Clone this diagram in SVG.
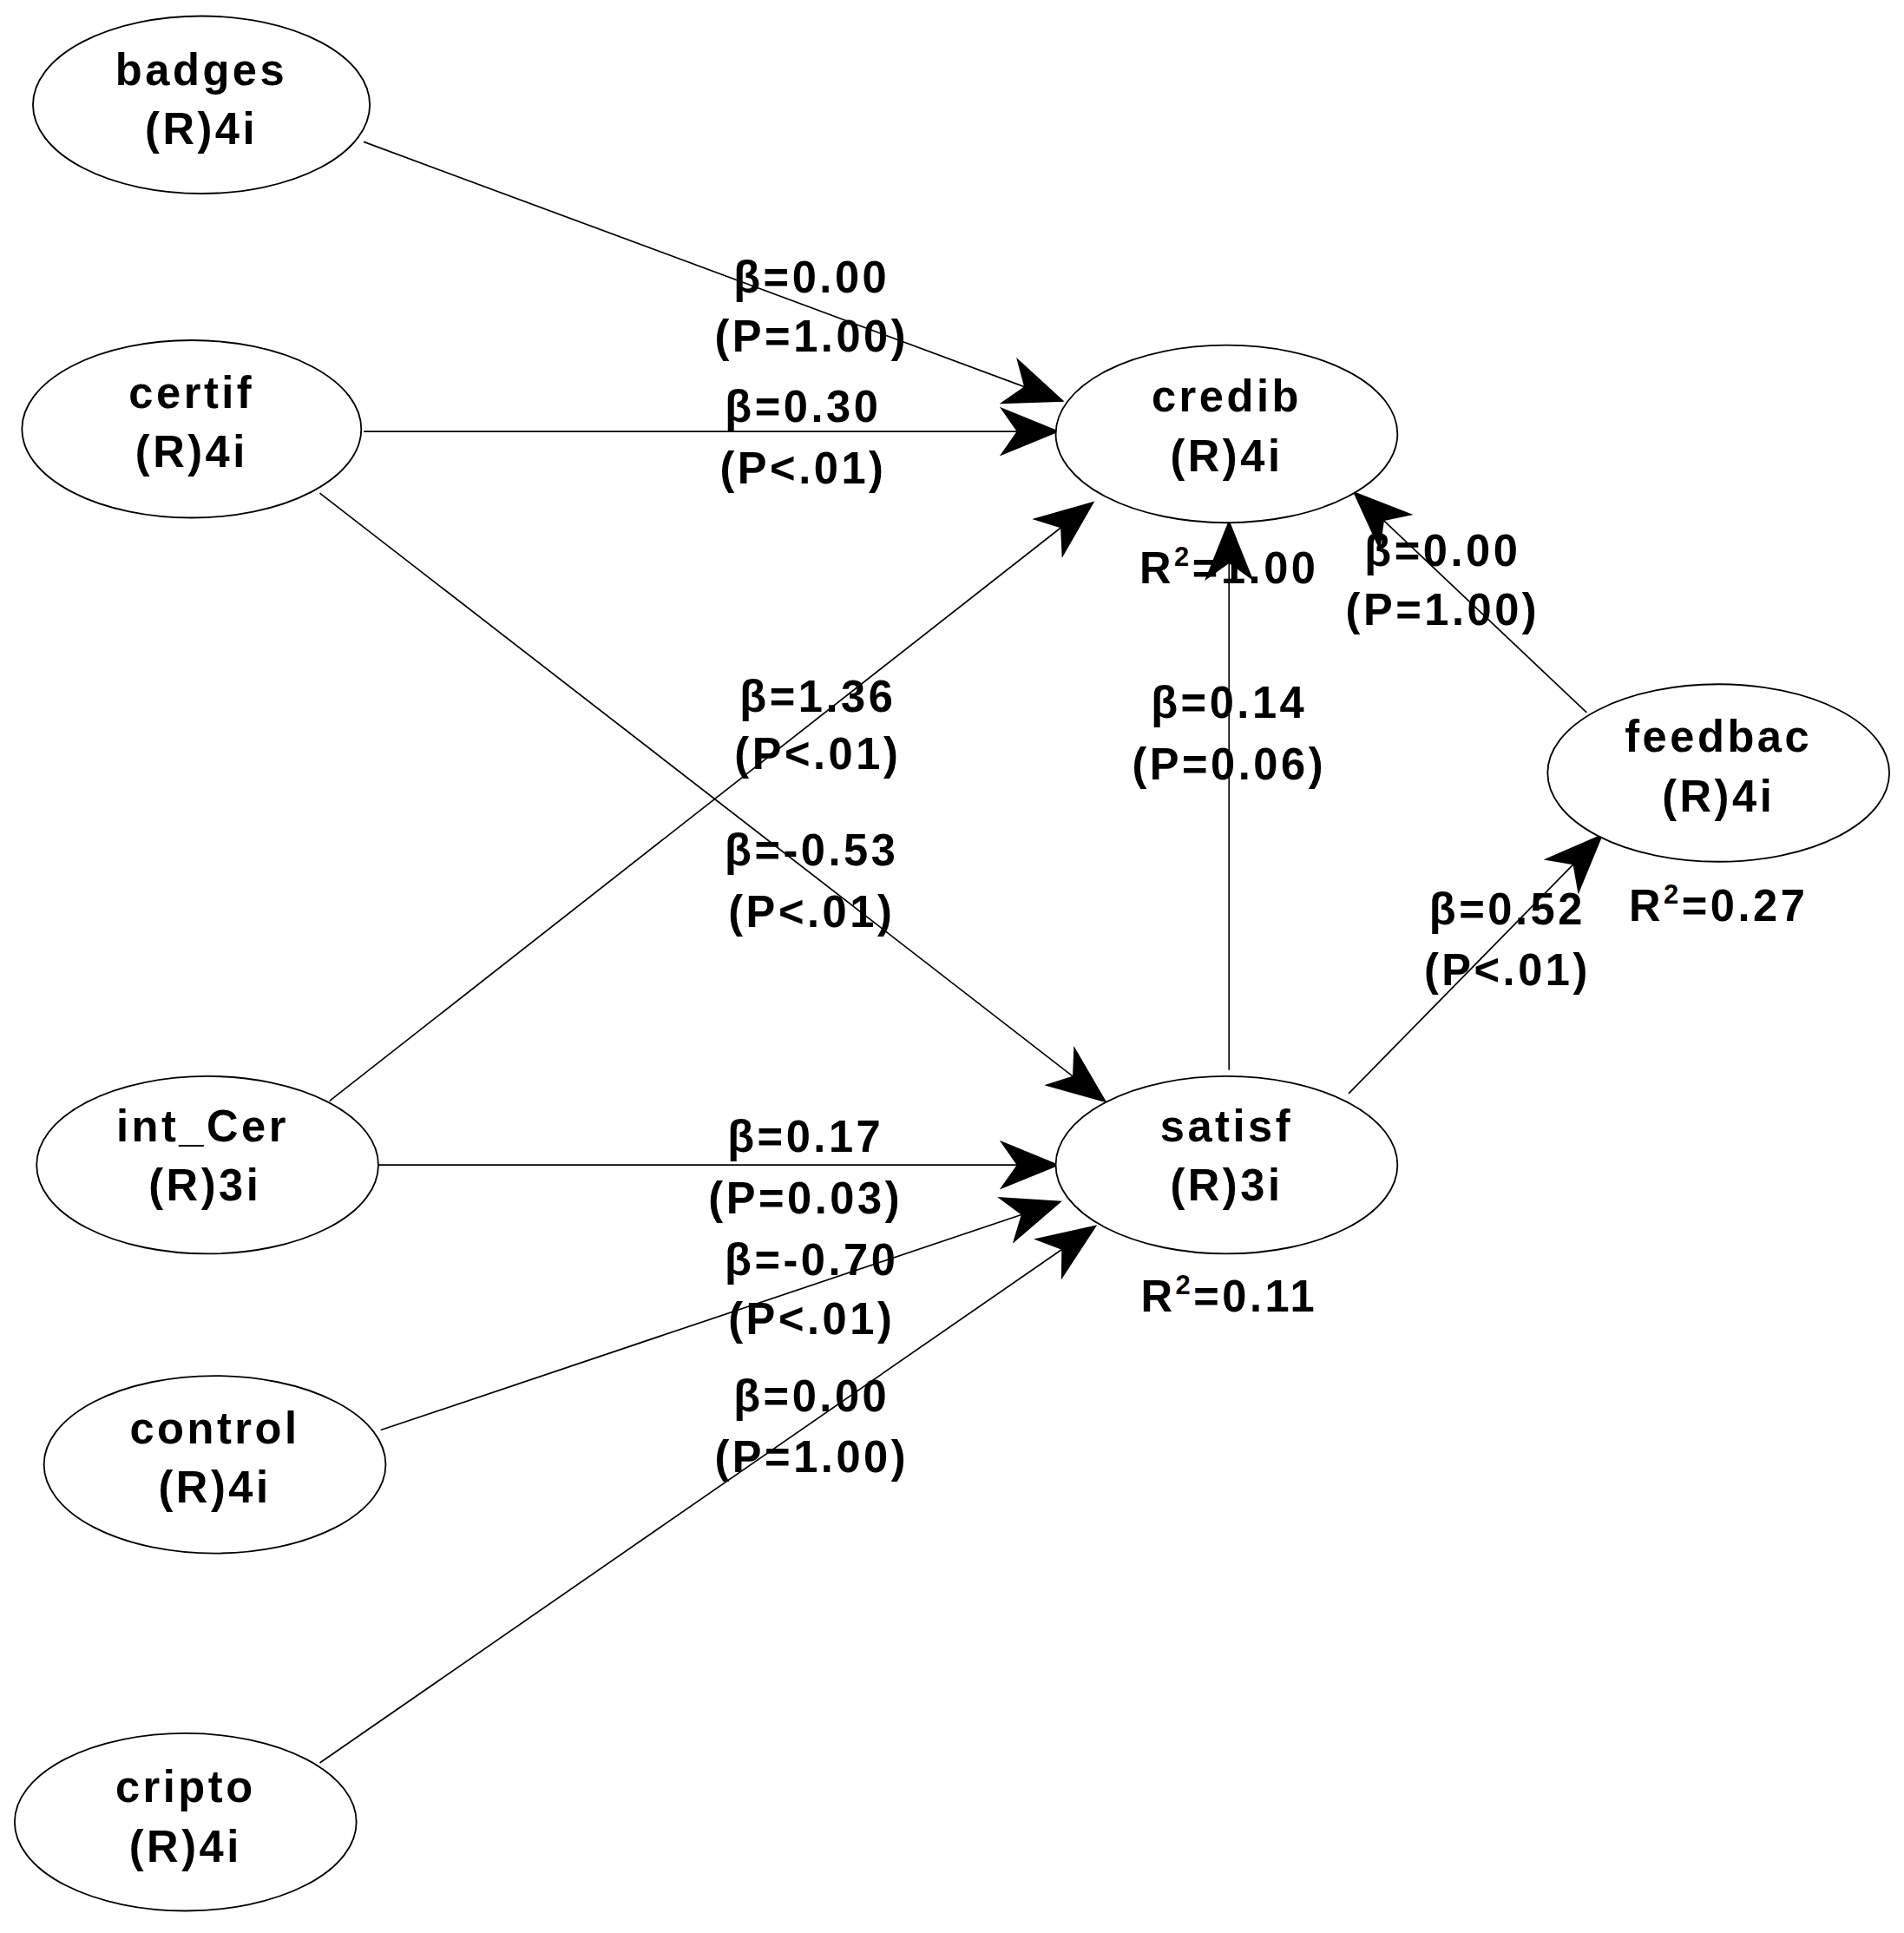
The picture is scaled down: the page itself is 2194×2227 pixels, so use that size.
<svg xmlns="http://www.w3.org/2000/svg" width="2194" height="2227" viewBox="0 0 2194 2227">
<style>
.n ellipse{fill:#fff;stroke:#000;stroke-width:1.3}
text{font-family:"Liberation Sans",Arial,sans-serif;font-weight:bold;font-size:36px;letter-spacing:2.5px;text-anchor:middle;fill:#000}
.c line{stroke:#000;stroke-width:1.2;fill:none}
</style>
<defs>
<marker id="a" markerUnits="userSpaceOnUse" markerWidth="50" markerHeight="40" refX="40" refY="17" orient="auto" viewBox="0 0 42 34">
<path d="M0,0 L42,17 L0,34 L12,17 z" fill="#000"/>
</marker>
</defs>
<rect width="2194" height="2227" fill="#fff"/>
<g transform="scale(1.4064,1.4203)">
<g class="c">
<line x1="298" y1="115" x2="870" y2="325" marker-end="url(#a)"/>
<line x1="298" y1="350" x2="866" y2="350" marker-end="url(#a)"/>
<line x1="262" y1="400" x2="905" y2="893" marker-end="url(#a)"/>
<line x1="270" y1="893" x2="895" y2="408" marker-end="url(#a)"/>
<line x1="310" y1="945" x2="866" y2="945" marker-end="url(#a)"/>
<line x1="312" y1="1160" x2="868" y2="975" marker-end="url(#a)"/>
<line x1="262" y1="1430" x2="897" y2="995" marker-end="url(#a)"/>
<line x1="1007" y1="868" x2="1007" y2="424" marker-end="url(#a)"/>
<line x1="1105" y1="887" x2="1312" y2="678" marker-end="url(#a)"/>
<line x1="1300" y1="578" x2="1110" y2="400" marker-end="url(#a)"/>
<text x="665" y="237">β=0.00</text><text x="665" y="285">(P=1.00)</text>
<text x="658" y="342">β=0.30</text><text x="658" y="392">(P&lt;.01)</text>
<text x="670" y="577">β=1.36</text><text x="670" y="624">(P&lt;.01)</text>
<text x="665" y="702">β=-0.53</text><text x="665" y="752">(P&lt;.01)</text>
<text x="660" y="934">β=0.17</text><text x="660" y="984">(P=0.03)</text>
<text x="665" y="1034">β=-0.70</text><text x="665" y="1082">(P&lt;.01)</text>
<text x="665" y="1145">β=0.00</text><text x="665" y="1194">(P=1.00)</text>
<text x="1007" y="582">β=0.14</text><text x="1007" y="632">(P=0.06)</text>
<text x="1182" y="459">β=0.00</text><text x="1182" y="507">(P=1.00)</text>
<text x="1235" y="750">β=0.52</text><text x="1235" y="799">(P&lt;.01)</text>
</g>
<g id="badges" class="n"><ellipse cx="165" cy="85" rx="138" ry="72"/><text x="165" y="69">badges</text><text x="165" y="117">(R)4i</text></g>
<g id="certif" class="n"><ellipse cx="157" cy="348" rx="139" ry="72"/><text x="157" y="331">certif</text><text x="157" y="379">(R)4i</text></g>
<g id="credib" class="n"><ellipse cx="1005" cy="352" rx="140" ry="72"/><text x="1005" y="334">credib</text><text x="1005" y="382">(R)4i</text><text x="1007" y="473">R<tspan font-size="22" dy="-14">2</tspan><tspan dy="14">=1.00</tspan></text></g>
<g id="int_Cer" class="n"><ellipse cx="170" cy="945" rx="140" ry="72"/><text x="166" y="926">int_Cer</text><text x="168" y="974">(R)3i</text></g>
<g id="satisf" class="n"><ellipse cx="1005" cy="945" rx="140" ry="72"/><text x="1005" y="926">satisf</text><text x="1005" y="974">(R)3i</text><text x="1007" y="1064">R<tspan font-size="22" dy="-14">2</tspan><tspan dy="14">=0.11</tspan></text></g>
<g id="feedbac" class="n"><ellipse cx="1408" cy="627" rx="140" ry="72"/><text x="1408" y="610">feedbac</text><text x="1408" y="658">(R)4i</text><text x="1408" y="747">R<tspan font-size="22" dy="-14">2</tspan><tspan dy="14">=0.27</tspan></text></g>
<g id="control" class="n"><ellipse cx="176" cy="1188" rx="140" ry="72"/><text x="176" y="1171">control</text><text x="176" y="1219">(R)4i</text></g>
<g id="cripto" class="n"><ellipse cx="152" cy="1478" rx="140" ry="72"/><text x="152" y="1462">cripto</text><text x="152" y="1510">(R)4i</text></g>
</g>
</svg>
